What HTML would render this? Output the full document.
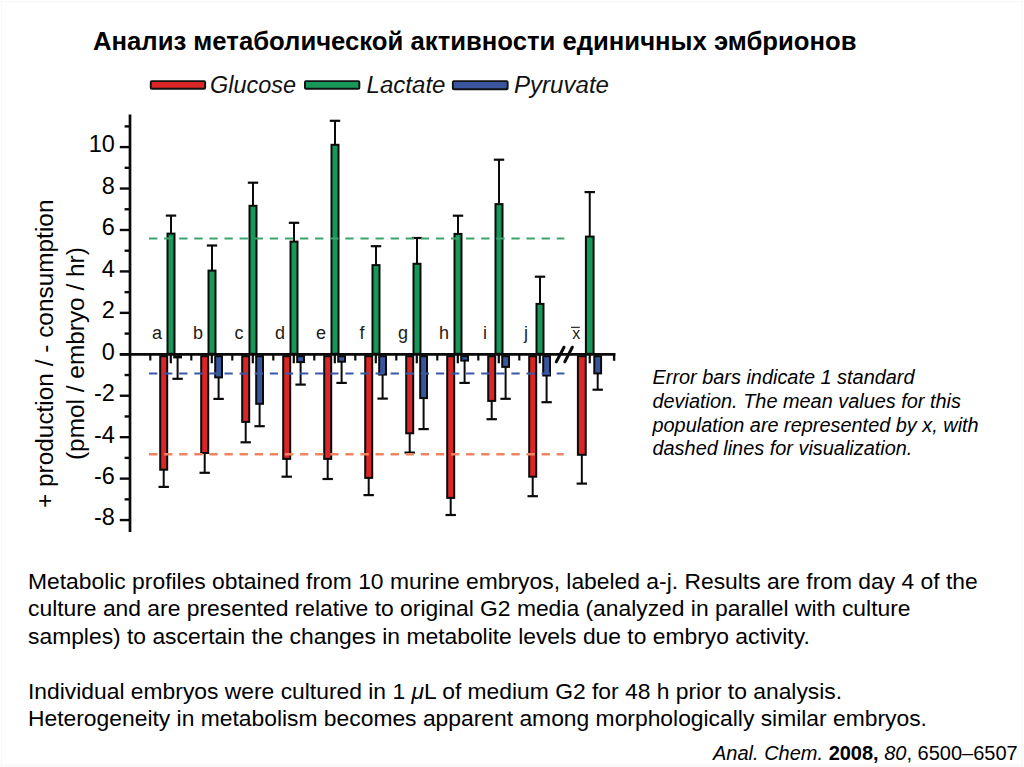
<!DOCTYPE html>
<html><head><meta charset="utf-8">
<style>
html,body{margin:0;padding:0;background:#fff;}
body{width:1024px;height:767px;position:relative;overflow:hidden;font-family:"Liberation Sans",sans-serif;color:#000;}
.t{position:absolute;white-space:pre;line-height:1;}
svg{position:absolute;left:0;top:0;}
svg text{font-family:"Liberation Sans",sans-serif;}
</style></head><body>
<div class="t" id="title" style="left:93px;top:28.6px;font-size:25.7px;font-weight:bold;">Анализ метаболической активности единичных эмбрионов</div>
<svg width="1024" height="767" viewBox="0 0 1024 767">
<rect x="0" y="764" width="1024" height="3" fill="#fafafa"/>
<rect x="1" y="0" width="1.2" height="767" fill="#f8f8f8"/>
<rect x="0" y="1" width="1024" height="1.2" fill="#f8f8f8"/>
<rect x="1021.5" y="0" width="1.2" height="767" fill="#f7f7f7"/>
<line x1="150.30" y1="354.00" x2="150.30" y2="360.50" stroke="#0a0a0a" stroke-width="2.2"/>
<line x1="191.30" y1="354.00" x2="191.30" y2="360.50" stroke="#0a0a0a" stroke-width="2.2"/>
<line x1="232.30" y1="354.00" x2="232.30" y2="360.50" stroke="#0a0a0a" stroke-width="2.2"/>
<line x1="273.30" y1="354.00" x2="273.30" y2="360.50" stroke="#0a0a0a" stroke-width="2.2"/>
<line x1="314.30" y1="354.00" x2="314.30" y2="360.50" stroke="#0a0a0a" stroke-width="2.2"/>
<line x1="355.30" y1="354.00" x2="355.30" y2="360.50" stroke="#0a0a0a" stroke-width="2.2"/>
<line x1="396.30" y1="354.00" x2="396.30" y2="360.50" stroke="#0a0a0a" stroke-width="2.2"/>
<line x1="437.30" y1="354.00" x2="437.30" y2="360.50" stroke="#0a0a0a" stroke-width="2.2"/>
<line x1="478.30" y1="354.00" x2="478.30" y2="360.50" stroke="#0a0a0a" stroke-width="2.2"/>
<line x1="519.30" y1="354.00" x2="519.30" y2="360.50" stroke="#0a0a0a" stroke-width="2.2"/>
<line x1="170.80" y1="354.00" x2="170.80" y2="363.30" stroke="#0a0a0a" stroke-width="2.2"/>
<line x1="211.80" y1="354.00" x2="211.80" y2="363.30" stroke="#0a0a0a" stroke-width="2.2"/>
<line x1="252.80" y1="354.00" x2="252.80" y2="363.30" stroke="#0a0a0a" stroke-width="2.2"/>
<line x1="293.80" y1="354.00" x2="293.80" y2="363.30" stroke="#0a0a0a" stroke-width="2.2"/>
<line x1="334.80" y1="354.00" x2="334.80" y2="363.30" stroke="#0a0a0a" stroke-width="2.2"/>
<line x1="375.80" y1="354.00" x2="375.80" y2="363.30" stroke="#0a0a0a" stroke-width="2.2"/>
<line x1="416.80" y1="354.00" x2="416.80" y2="363.30" stroke="#0a0a0a" stroke-width="2.2"/>
<line x1="457.80" y1="354.00" x2="457.80" y2="363.30" stroke="#0a0a0a" stroke-width="2.2"/>
<line x1="498.80" y1="354.00" x2="498.80" y2="363.30" stroke="#0a0a0a" stroke-width="2.2"/>
<line x1="539.80" y1="354.00" x2="539.80" y2="363.30" stroke="#0a0a0a" stroke-width="2.2"/>
<line x1="589.75" y1="354.00" x2="589.75" y2="363.30" stroke="#0a0a0a" stroke-width="2.2"/>
<line x1="614.10" y1="353.00" x2="614.10" y2="360.80" stroke="#0a0a0a" stroke-width="2.4"/>
<line x1="171.00" y1="233.00" x2="171.00" y2="215.60" stroke="#0a0a0a" stroke-width="2.0"/>
<line x1="165.80" y1="215.60" x2="176.20" y2="215.60" stroke="#0a0a0a" stroke-width="2.2"/>
<line x1="163.70" y1="469.70" x2="163.70" y2="486.90" stroke="#0a0a0a" stroke-width="2.0"/>
<line x1="158.50" y1="486.90" x2="168.90" y2="486.90" stroke="#0a0a0a" stroke-width="2.2"/>
<line x1="177.60" y1="355.70" x2="177.60" y2="378.80" stroke="#0a0a0a" stroke-width="2.0"/>
<line x1="172.40" y1="378.80" x2="182.80" y2="378.80" stroke="#0a0a0a" stroke-width="2.2"/>
<rect x="160.20" y="356.20" width="7.00" height="113.50" fill="#da2626" stroke="#0a0a0a" stroke-width="2.0"/>
<rect x="174.20" y="356.20" width="6.80" height="1.20" fill="#38559e" stroke="#0a0a0a" stroke-width="2.0"/>
<rect x="167.50" y="233.60" width="7.00" height="120.20" fill="#179858" stroke="#0a0a0a" stroke-width="2.0"/>
<line x1="212.00" y1="270.00" x2="212.00" y2="245.50" stroke="#0a0a0a" stroke-width="2.0"/>
<line x1="206.80" y1="245.50" x2="217.20" y2="245.50" stroke="#0a0a0a" stroke-width="2.2"/>
<line x1="204.70" y1="453.00" x2="204.70" y2="472.80" stroke="#0a0a0a" stroke-width="2.0"/>
<line x1="199.50" y1="472.80" x2="209.90" y2="472.80" stroke="#0a0a0a" stroke-width="2.2"/>
<line x1="218.60" y1="355.70" x2="218.60" y2="398.90" stroke="#0a0a0a" stroke-width="2.0"/>
<line x1="213.40" y1="398.90" x2="223.80" y2="398.90" stroke="#0a0a0a" stroke-width="2.2"/>
<rect x="201.20" y="356.20" width="7.00" height="96.80" fill="#da2626" stroke="#0a0a0a" stroke-width="2.0"/>
<rect x="215.20" y="356.20" width="6.80" height="21.20" fill="#38559e" stroke="#0a0a0a" stroke-width="2.0"/>
<rect x="208.50" y="270.60" width="7.00" height="83.20" fill="#179858" stroke="#0a0a0a" stroke-width="2.0"/>
<line x1="253.00" y1="205.20" x2="253.00" y2="182.70" stroke="#0a0a0a" stroke-width="2.0"/>
<line x1="247.80" y1="182.70" x2="258.20" y2="182.70" stroke="#0a0a0a" stroke-width="2.2"/>
<line x1="245.70" y1="421.90" x2="245.70" y2="442.30" stroke="#0a0a0a" stroke-width="2.0"/>
<line x1="240.50" y1="442.30" x2="250.90" y2="442.30" stroke="#0a0a0a" stroke-width="2.2"/>
<line x1="259.60" y1="355.70" x2="259.60" y2="426.20" stroke="#0a0a0a" stroke-width="2.0"/>
<line x1="254.40" y1="426.20" x2="264.80" y2="426.20" stroke="#0a0a0a" stroke-width="2.2"/>
<rect x="242.20" y="356.20" width="7.00" height="65.70" fill="#da2626" stroke="#0a0a0a" stroke-width="2.0"/>
<rect x="256.20" y="356.20" width="6.80" height="47.60" fill="#38559e" stroke="#0a0a0a" stroke-width="2.0"/>
<rect x="249.50" y="205.80" width="7.00" height="148.00" fill="#179858" stroke="#0a0a0a" stroke-width="2.0"/>
<line x1="294.00" y1="241.00" x2="294.00" y2="222.80" stroke="#0a0a0a" stroke-width="2.0"/>
<line x1="288.80" y1="222.80" x2="299.20" y2="222.80" stroke="#0a0a0a" stroke-width="2.2"/>
<line x1="286.70" y1="458.90" x2="286.70" y2="476.70" stroke="#0a0a0a" stroke-width="2.0"/>
<line x1="281.50" y1="476.70" x2="291.90" y2="476.70" stroke="#0a0a0a" stroke-width="2.2"/>
<line x1="300.60" y1="355.70" x2="300.60" y2="384.60" stroke="#0a0a0a" stroke-width="2.0"/>
<line x1="295.40" y1="384.60" x2="305.80" y2="384.60" stroke="#0a0a0a" stroke-width="2.2"/>
<rect x="283.20" y="356.20" width="7.00" height="102.70" fill="#da2626" stroke="#0a0a0a" stroke-width="2.0"/>
<rect x="297.20" y="356.20" width="6.80" height="5.90" fill="#38559e" stroke="#0a0a0a" stroke-width="2.0"/>
<rect x="290.50" y="241.60" width="7.00" height="112.20" fill="#179858" stroke="#0a0a0a" stroke-width="2.0"/>
<line x1="335.00" y1="144.20" x2="335.00" y2="120.80" stroke="#0a0a0a" stroke-width="2.0"/>
<line x1="329.80" y1="120.80" x2="340.20" y2="120.80" stroke="#0a0a0a" stroke-width="2.2"/>
<line x1="327.70" y1="458.90" x2="327.70" y2="479.00" stroke="#0a0a0a" stroke-width="2.0"/>
<line x1="322.50" y1="479.00" x2="332.90" y2="479.00" stroke="#0a0a0a" stroke-width="2.2"/>
<line x1="341.60" y1="355.70" x2="341.60" y2="382.90" stroke="#0a0a0a" stroke-width="2.0"/>
<line x1="336.40" y1="382.90" x2="346.80" y2="382.90" stroke="#0a0a0a" stroke-width="2.2"/>
<rect x="324.20" y="356.20" width="7.00" height="102.70" fill="#da2626" stroke="#0a0a0a" stroke-width="2.0"/>
<rect x="338.20" y="356.20" width="6.80" height="5.50" fill="#38559e" stroke="#0a0a0a" stroke-width="2.0"/>
<rect x="331.50" y="144.80" width="7.00" height="209.00" fill="#179858" stroke="#0a0a0a" stroke-width="2.0"/>
<line x1="376.00" y1="264.50" x2="376.00" y2="246.20" stroke="#0a0a0a" stroke-width="2.0"/>
<line x1="370.80" y1="246.20" x2="381.20" y2="246.20" stroke="#0a0a0a" stroke-width="2.2"/>
<line x1="368.70" y1="477.90" x2="368.70" y2="495.10" stroke="#0a0a0a" stroke-width="2.0"/>
<line x1="363.50" y1="495.10" x2="373.90" y2="495.10" stroke="#0a0a0a" stroke-width="2.2"/>
<line x1="382.60" y1="355.70" x2="382.60" y2="398.60" stroke="#0a0a0a" stroke-width="2.0"/>
<line x1="377.40" y1="398.60" x2="387.80" y2="398.60" stroke="#0a0a0a" stroke-width="2.2"/>
<rect x="365.20" y="356.20" width="7.00" height="121.70" fill="#da2626" stroke="#0a0a0a" stroke-width="2.0"/>
<rect x="379.20" y="356.20" width="6.80" height="18.40" fill="#38559e" stroke="#0a0a0a" stroke-width="2.0"/>
<rect x="372.50" y="265.10" width="7.00" height="88.70" fill="#179858" stroke="#0a0a0a" stroke-width="2.0"/>
<line x1="417.00" y1="263.20" x2="417.00" y2="238.00" stroke="#0a0a0a" stroke-width="2.0"/>
<line x1="411.80" y1="238.00" x2="422.20" y2="238.00" stroke="#0a0a0a" stroke-width="2.2"/>
<line x1="409.70" y1="433.30" x2="409.70" y2="452.60" stroke="#0a0a0a" stroke-width="2.0"/>
<line x1="404.50" y1="452.60" x2="414.90" y2="452.60" stroke="#0a0a0a" stroke-width="2.2"/>
<line x1="423.60" y1="355.70" x2="423.60" y2="429.10" stroke="#0a0a0a" stroke-width="2.0"/>
<line x1="418.40" y1="429.10" x2="428.80" y2="429.10" stroke="#0a0a0a" stroke-width="2.2"/>
<rect x="406.20" y="356.20" width="7.00" height="77.10" fill="#da2626" stroke="#0a0a0a" stroke-width="2.0"/>
<rect x="420.20" y="356.20" width="6.80" height="41.90" fill="#38559e" stroke="#0a0a0a" stroke-width="2.0"/>
<rect x="413.50" y="263.80" width="7.00" height="90.00" fill="#179858" stroke="#0a0a0a" stroke-width="2.0"/>
<line x1="458.00" y1="233.30" x2="458.00" y2="215.70" stroke="#0a0a0a" stroke-width="2.0"/>
<line x1="452.80" y1="215.70" x2="463.20" y2="215.70" stroke="#0a0a0a" stroke-width="2.2"/>
<line x1="450.70" y1="497.90" x2="450.70" y2="515.00" stroke="#0a0a0a" stroke-width="2.0"/>
<line x1="445.50" y1="515.00" x2="455.90" y2="515.00" stroke="#0a0a0a" stroke-width="2.2"/>
<line x1="464.60" y1="355.70" x2="464.60" y2="382.90" stroke="#0a0a0a" stroke-width="2.0"/>
<line x1="459.40" y1="382.90" x2="469.80" y2="382.90" stroke="#0a0a0a" stroke-width="2.2"/>
<rect x="447.20" y="356.20" width="7.00" height="141.70" fill="#da2626" stroke="#0a0a0a" stroke-width="2.0"/>
<rect x="461.20" y="356.20" width="6.80" height="4.40" fill="#38559e" stroke="#0a0a0a" stroke-width="2.0"/>
<rect x="454.50" y="233.90" width="7.00" height="119.90" fill="#179858" stroke="#0a0a0a" stroke-width="2.0"/>
<line x1="499.00" y1="203.50" x2="499.00" y2="159.70" stroke="#0a0a0a" stroke-width="2.0"/>
<line x1="493.80" y1="159.70" x2="504.20" y2="159.70" stroke="#0a0a0a" stroke-width="2.2"/>
<line x1="491.70" y1="400.90" x2="491.70" y2="419.20" stroke="#0a0a0a" stroke-width="2.0"/>
<line x1="486.50" y1="419.20" x2="496.90" y2="419.20" stroke="#0a0a0a" stroke-width="2.2"/>
<line x1="505.60" y1="355.70" x2="505.60" y2="398.80" stroke="#0a0a0a" stroke-width="2.0"/>
<line x1="500.40" y1="398.80" x2="510.80" y2="398.80" stroke="#0a0a0a" stroke-width="2.2"/>
<rect x="488.20" y="356.20" width="7.00" height="44.70" fill="#da2626" stroke="#0a0a0a" stroke-width="2.0"/>
<rect x="502.20" y="356.20" width="6.80" height="10.70" fill="#38559e" stroke="#0a0a0a" stroke-width="2.0"/>
<rect x="495.50" y="204.10" width="7.00" height="149.70" fill="#179858" stroke="#0a0a0a" stroke-width="2.0"/>
<line x1="540.00" y1="303.30" x2="540.00" y2="276.70" stroke="#0a0a0a" stroke-width="2.0"/>
<line x1="534.80" y1="276.70" x2="545.20" y2="276.70" stroke="#0a0a0a" stroke-width="2.2"/>
<line x1="532.70" y1="476.70" x2="532.70" y2="496.20" stroke="#0a0a0a" stroke-width="2.0"/>
<line x1="527.50" y1="496.20" x2="537.90" y2="496.20" stroke="#0a0a0a" stroke-width="2.2"/>
<line x1="546.60" y1="355.70" x2="546.60" y2="402.20" stroke="#0a0a0a" stroke-width="2.0"/>
<line x1="541.40" y1="402.20" x2="551.80" y2="402.20" stroke="#0a0a0a" stroke-width="2.2"/>
<rect x="529.20" y="356.20" width="7.00" height="120.50" fill="#da2626" stroke="#0a0a0a" stroke-width="2.0"/>
<rect x="543.20" y="356.20" width="6.80" height="19.30" fill="#38559e" stroke="#0a0a0a" stroke-width="2.0"/>
<rect x="536.50" y="303.90" width="7.00" height="49.90" fill="#179858" stroke="#0a0a0a" stroke-width="2.0"/>
<line x1="589.75" y1="236.00" x2="589.75" y2="192.10" stroke="#0a0a0a" stroke-width="2.0"/>
<line x1="584.55" y1="192.10" x2="594.95" y2="192.10" stroke="#0a0a0a" stroke-width="2.2"/>
<line x1="581.83" y1="454.80" x2="581.83" y2="483.60" stroke="#0a0a0a" stroke-width="2.0"/>
<line x1="576.62" y1="483.60" x2="587.03" y2="483.60" stroke="#0a0a0a" stroke-width="2.2"/>
<line x1="597.70" y1="355.70" x2="597.70" y2="389.70" stroke="#0a0a0a" stroke-width="2.0"/>
<line x1="592.50" y1="389.70" x2="602.90" y2="389.70" stroke="#0a0a0a" stroke-width="2.2"/>
<rect x="577.90" y="356.20" width="7.85" height="98.60" fill="#da2626" stroke="#0a0a0a" stroke-width="2.0"/>
<rect x="594.30" y="356.20" width="6.80" height="17.20" fill="#38559e" stroke="#0a0a0a" stroke-width="2.0"/>
<rect x="585.90" y="236.60" width="7.70" height="117.20" fill="#179858" stroke="#0a0a0a" stroke-width="2.0"/>
<line x1="149" y1="238.5" x2="564.4" y2="238.5" stroke="#3aa46c" stroke-width="2.0" stroke-dasharray="8.3 6.8"/>
<line x1="149" y1="373.6" x2="564.4" y2="373.6" stroke="#3b58a6" stroke-width="2.0" stroke-dasharray="8.3 6.8"/>
<line x1="149" y1="454.3" x2="563.7" y2="454.3" stroke="#ee8462" stroke-width="2.6" stroke-dasharray="8.3 6.8"/>
<line x1="130.00" y1="114.60" x2="130.00" y2="532.10" stroke="#0a0a0a" stroke-width="2.7"/>
<line x1="119.80" y1="354.30" x2="615.30" y2="354.30" stroke="#0a0a0a" stroke-width="2.8"/>
<line x1="119.80" y1="520.06" x2="130.00" y2="520.06" stroke="#0a0a0a" stroke-width="2.4"/>
<line x1="124.60" y1="499.34" x2="130.00" y2="499.34" stroke="#0a0a0a" stroke-width="2.4"/>
<line x1="119.80" y1="478.62" x2="130.00" y2="478.62" stroke="#0a0a0a" stroke-width="2.4"/>
<line x1="124.60" y1="457.90" x2="130.00" y2="457.90" stroke="#0a0a0a" stroke-width="2.4"/>
<line x1="119.80" y1="437.18" x2="130.00" y2="437.18" stroke="#0a0a0a" stroke-width="2.4"/>
<line x1="124.60" y1="416.46" x2="130.00" y2="416.46" stroke="#0a0a0a" stroke-width="2.4"/>
<line x1="119.80" y1="395.74" x2="130.00" y2="395.74" stroke="#0a0a0a" stroke-width="2.4"/>
<line x1="124.60" y1="375.02" x2="130.00" y2="375.02" stroke="#0a0a0a" stroke-width="2.4"/>
<line x1="119.80" y1="354.30" x2="130.00" y2="354.30" stroke="#0a0a0a" stroke-width="2.4"/>
<line x1="124.60" y1="333.58" x2="130.00" y2="333.58" stroke="#0a0a0a" stroke-width="2.4"/>
<line x1="119.80" y1="312.86" x2="130.00" y2="312.86" stroke="#0a0a0a" stroke-width="2.4"/>
<line x1="124.60" y1="292.14" x2="130.00" y2="292.14" stroke="#0a0a0a" stroke-width="2.4"/>
<line x1="119.80" y1="271.42" x2="130.00" y2="271.42" stroke="#0a0a0a" stroke-width="2.4"/>
<line x1="124.60" y1="250.70" x2="130.00" y2="250.70" stroke="#0a0a0a" stroke-width="2.4"/>
<line x1="119.80" y1="229.98" x2="130.00" y2="229.98" stroke="#0a0a0a" stroke-width="2.4"/>
<line x1="124.60" y1="209.26" x2="130.00" y2="209.26" stroke="#0a0a0a" stroke-width="2.4"/>
<line x1="119.80" y1="188.54" x2="130.00" y2="188.54" stroke="#0a0a0a" stroke-width="2.4"/>
<line x1="124.60" y1="167.82" x2="130.00" y2="167.82" stroke="#0a0a0a" stroke-width="2.4"/>
<line x1="119.80" y1="147.10" x2="130.00" y2="147.10" stroke="#0a0a0a" stroke-width="2.4"/>
<line x1="124.60" y1="126.38" x2="130.00" y2="126.38" stroke="#0a0a0a" stroke-width="2.4"/>
<line x1="556.30" y1="361.80" x2="564.00" y2="347.20" stroke="#0a0a0a" stroke-width="3.0" stroke-linecap="round"/>
<line x1="564.80" y1="361.80" x2="572.30" y2="347.20" stroke="#0a0a0a" stroke-width="3.0" stroke-linecap="round"/>
<text x="114.8" y="525.4" text-anchor="end" font-size="23.5">-8</text>
<text x="114.8" y="483.9" text-anchor="end" font-size="23.5">-6</text>
<text x="114.8" y="442.5" text-anchor="end" font-size="23.5">-4</text>
<text x="114.8" y="401.0" text-anchor="end" font-size="23.5">-2</text>
<text x="114.8" y="359.6" text-anchor="end" font-size="23.5">0</text>
<text x="114.8" y="318.2" text-anchor="end" font-size="23.5">2</text>
<text x="114.8" y="276.7" text-anchor="end" font-size="23.5">4</text>
<text x="114.8" y="235.3" text-anchor="end" font-size="23.5">6</text>
<text x="114.8" y="193.8" text-anchor="end" font-size="23.5">8</text>
<text x="114.8" y="152.4" text-anchor="end" font-size="23.5">10</text>
<text x="157.0" y="339.3" text-anchor="middle" font-size="18" fill="#1e1a1a">a</text>
<text x="198.0" y="339.3" text-anchor="middle" font-size="18" fill="#1e1a1a">b</text>
<text x="239.0" y="339.3" text-anchor="middle" font-size="18" fill="#1e1a1a">c</text>
<text x="280.0" y="339.3" text-anchor="middle" font-size="18" fill="#1e1a1a">d</text>
<text x="321.0" y="339.3" text-anchor="middle" font-size="18" fill="#1e1a1a">e</text>
<text x="362.0" y="339.3" text-anchor="middle" font-size="18" fill="#1e1a1a">f</text>
<text x="403.0" y="339.3" text-anchor="middle" font-size="18" fill="#1e1a1a">g</text>
<text x="444.0" y="339.3" text-anchor="middle" font-size="18" fill="#1e1a1a">h</text>
<text x="485.0" y="339.3" text-anchor="middle" font-size="18" fill="#1e1a1a">i</text>
<text x="526.0" y="339.3" text-anchor="middle" font-size="18" fill="#1e1a1a">j</text>
<text x="576.2" y="339.3" text-anchor="middle" font-size="16" fill="#222">x</text>
<line x1="571.00" y1="327.40" x2="579.80" y2="327.40" stroke="#333" stroke-width="1.3"/>
<text transform="translate(53,508) rotate(-90)" font-size="24.4">+ production / - consumption</text>
<text transform="translate(83.5,460) rotate(-90)" font-size="24.4">(pmol / embryo / hr)</text>
<rect x="150.75" y="81.15" width="54.40" height="7.60" rx="1" fill="#da2626" stroke="#111" stroke-width="1.9"/>
<rect x="304.95" y="81.15" width="54.40" height="7.60" rx="1" fill="#179858" stroke="#111" stroke-width="1.9"/>
<rect x="452.85" y="81.15" width="54.80" height="8.10" rx="1" fill="#38559e" stroke="#111" stroke-width="1.9"/>
<text x="210" y="93.2" font-size="23" font-style="italic" fill="#111" textLength="86" lengthAdjust="spacingAndGlyphs">Glucose</text>
<text x="366.5" y="93.2" font-size="23" font-style="italic" fill="#111" textLength="79" lengthAdjust="spacingAndGlyphs">Lactate</text>
<text x="514" y="93.2" font-size="23" font-style="italic" fill="#111" textLength="95" lengthAdjust="spacingAndGlyphs">Pyruvate</text>
</svg>
<div class="t" id="cap" style="left:652.5px;top:366px;font-size:19.9px;font-style:italic;line-height:23.8px;">Error bars indicate 1 standard
deviation. The mean values for this
population are represented by x, with
dashed lines for visualization.</div>
<div class="t" id="p1" style="left:28px;top:568px;font-size:22.85px;line-height:27.3px;">Metabolic profiles obtained from 10 murine embryos, labeled a-j. Results are from day 4 of the
culture and are presented relative to original G2 media (analyzed in parallel with culture
samples) to ascertain the changes in metabolite levels due to embryo activity.</div>
<div class="t" id="p2" style="left:28px;top:677.7px;font-size:22.85px;line-height:27.4px;">Individual embryos were cultured in 1 <i>μ</i>L of medium G2 for 48 h prior to analysis.
Heterogeneity in metabolism becomes apparent among morphologically similar embryos.</div>
<div class="t" id="cite" style="left:713px;top:742.5px;font-size:20px;"><i>Anal. Chem.</i> <b>2008,</b> <i>80</i>, 6500–6507</div>
</body></html>
